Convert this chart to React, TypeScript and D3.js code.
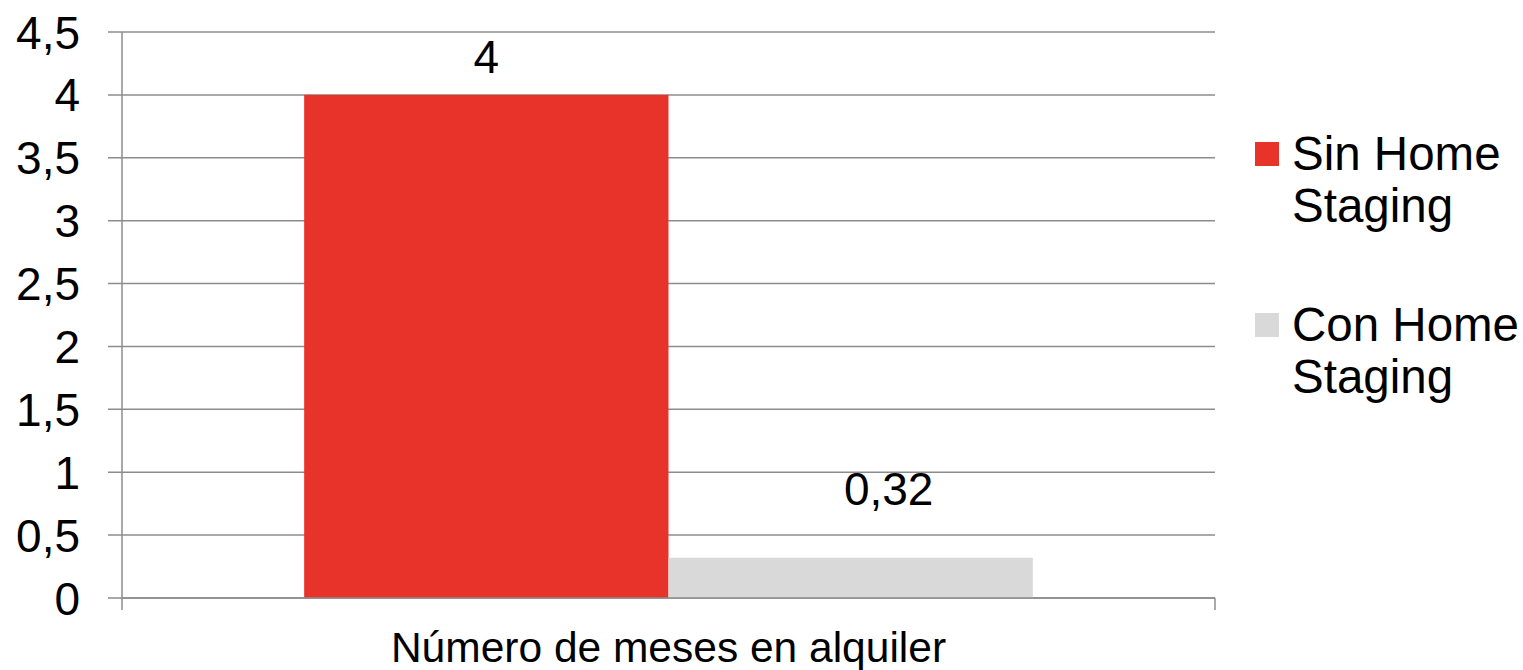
import React from 'react';
import * as d3 from 'd3';

const categories = ['Número de meses en alquiler'];
const seriesNames = [['Sin Home', 'Staging'], ['Con Home', 'Staging']];
const seriesValues = [4, 0.32];
const seriesLabels = ['4', '0,32'];
const yTicks = [0, 0.5, 1, 1.5, 2, 2.5, 3, 3.5, 4, 4.5];
const colors = ['#e8332a', '#d9d9d9'];

const width = 1523;
const height = 670;
const margin = { top: 32, right: 308, bottom: 72, left: 122 };
const font = '"Liberation Sans", Arial, sans-serif';
const gridColor = '#8c8c8c';

const App = () => {
  const innerW = width - margin.left - margin.right;
  const innerH = height - margin.top - margin.bottom;

  const y = d3.scaleLinear().domain([0, 4.5]).range([innerH, 0]);
  const x0 = d3.scaleBand().domain(categories).range([0, innerW]).paddingInner(0).paddingOuter(0.25);
  const x1 = d3.scaleBand().domain(seriesValues.map((_, i) => String(i))).range([0, x0.bandwidth()]);
  const fmt = (v: number) => String(v).replace('.', ',');

  // the second data label sits off-centre in the original
  const labelShift = [{ dx: 0, dy: -22 }, { dx: 38, dy: -53 }];

  return (
    <svg width={width} height={height} style={{ position: 'absolute', left: 0, top: 0 }} fontFamily={font}>
      <g transform={`translate(${margin.left},${margin.top})`}>
        {yTicks.map(t => (
          <g key={t}>
            <line x1={-14} x2={innerW} y1={y(t)} y2={y(t)} stroke={gridColor} strokeWidth={1.5} />
            <text x={-42} y={y(t)} dy="0.36em" textAnchor="end" fontSize={46} fill="#000">{fmt(t)}</text>
          </g>
        ))}
        {categories.map(c => (
          <g key={c} transform={`translate(${x0(c)},0)`}>
            {seriesValues.map((v, i) => (
              <rect key={i} x={x1(String(i))} y={y(v)} width={x1.bandwidth()} height={innerH - y(v)} fill={colors[i]} />
            ))}
            {seriesValues.map((v, i) => (
              <text key={'l' + i} x={(x1(String(i)) ?? 0) + x1.bandwidth() / 2 + labelShift[i].dx}
                y={y(v) + labelShift[i].dy} textAnchor="middle" fontSize={46} fill="#000">{seriesLabels[i]}</text>
            ))}
          </g>
        ))}
        <line x1={0} x2={0} y1={0} y2={innerH + 12} stroke={gridColor} strokeWidth={1.5} />
        <line x1={innerW} x2={innerW} y1={innerH} y2={innerH + 12} stroke={gridColor} strokeWidth={1.5} />
        <line x1={0} x2={innerW} y1={innerH} y2={innerH} stroke={gridColor} strokeWidth={1.5} />
        {categories.map(c => (
          <text key={c} x={(x0(c) ?? 0) + x0.bandwidth() / 2} y={innerH + 64} textAnchor="middle" fontSize={42.5} fill="#000">{c}</text>
        ))}
      </g>
      <g transform="translate(1255,142)">
        {seriesNames.map((lines, i) => (
          <g key={i} transform={`translate(0,${i * 171})`}>
            <rect width={24} height={24} fill={colors[i]} />
            {lines.map((ln, j) => (
              <text key={j} x={37} y={28 + j * 52} fontSize={47.5} fill="#000">{ln}</text>
            ))}
          </g>
        ))}
      </g>
    </svg>
  );
};

export default App;
